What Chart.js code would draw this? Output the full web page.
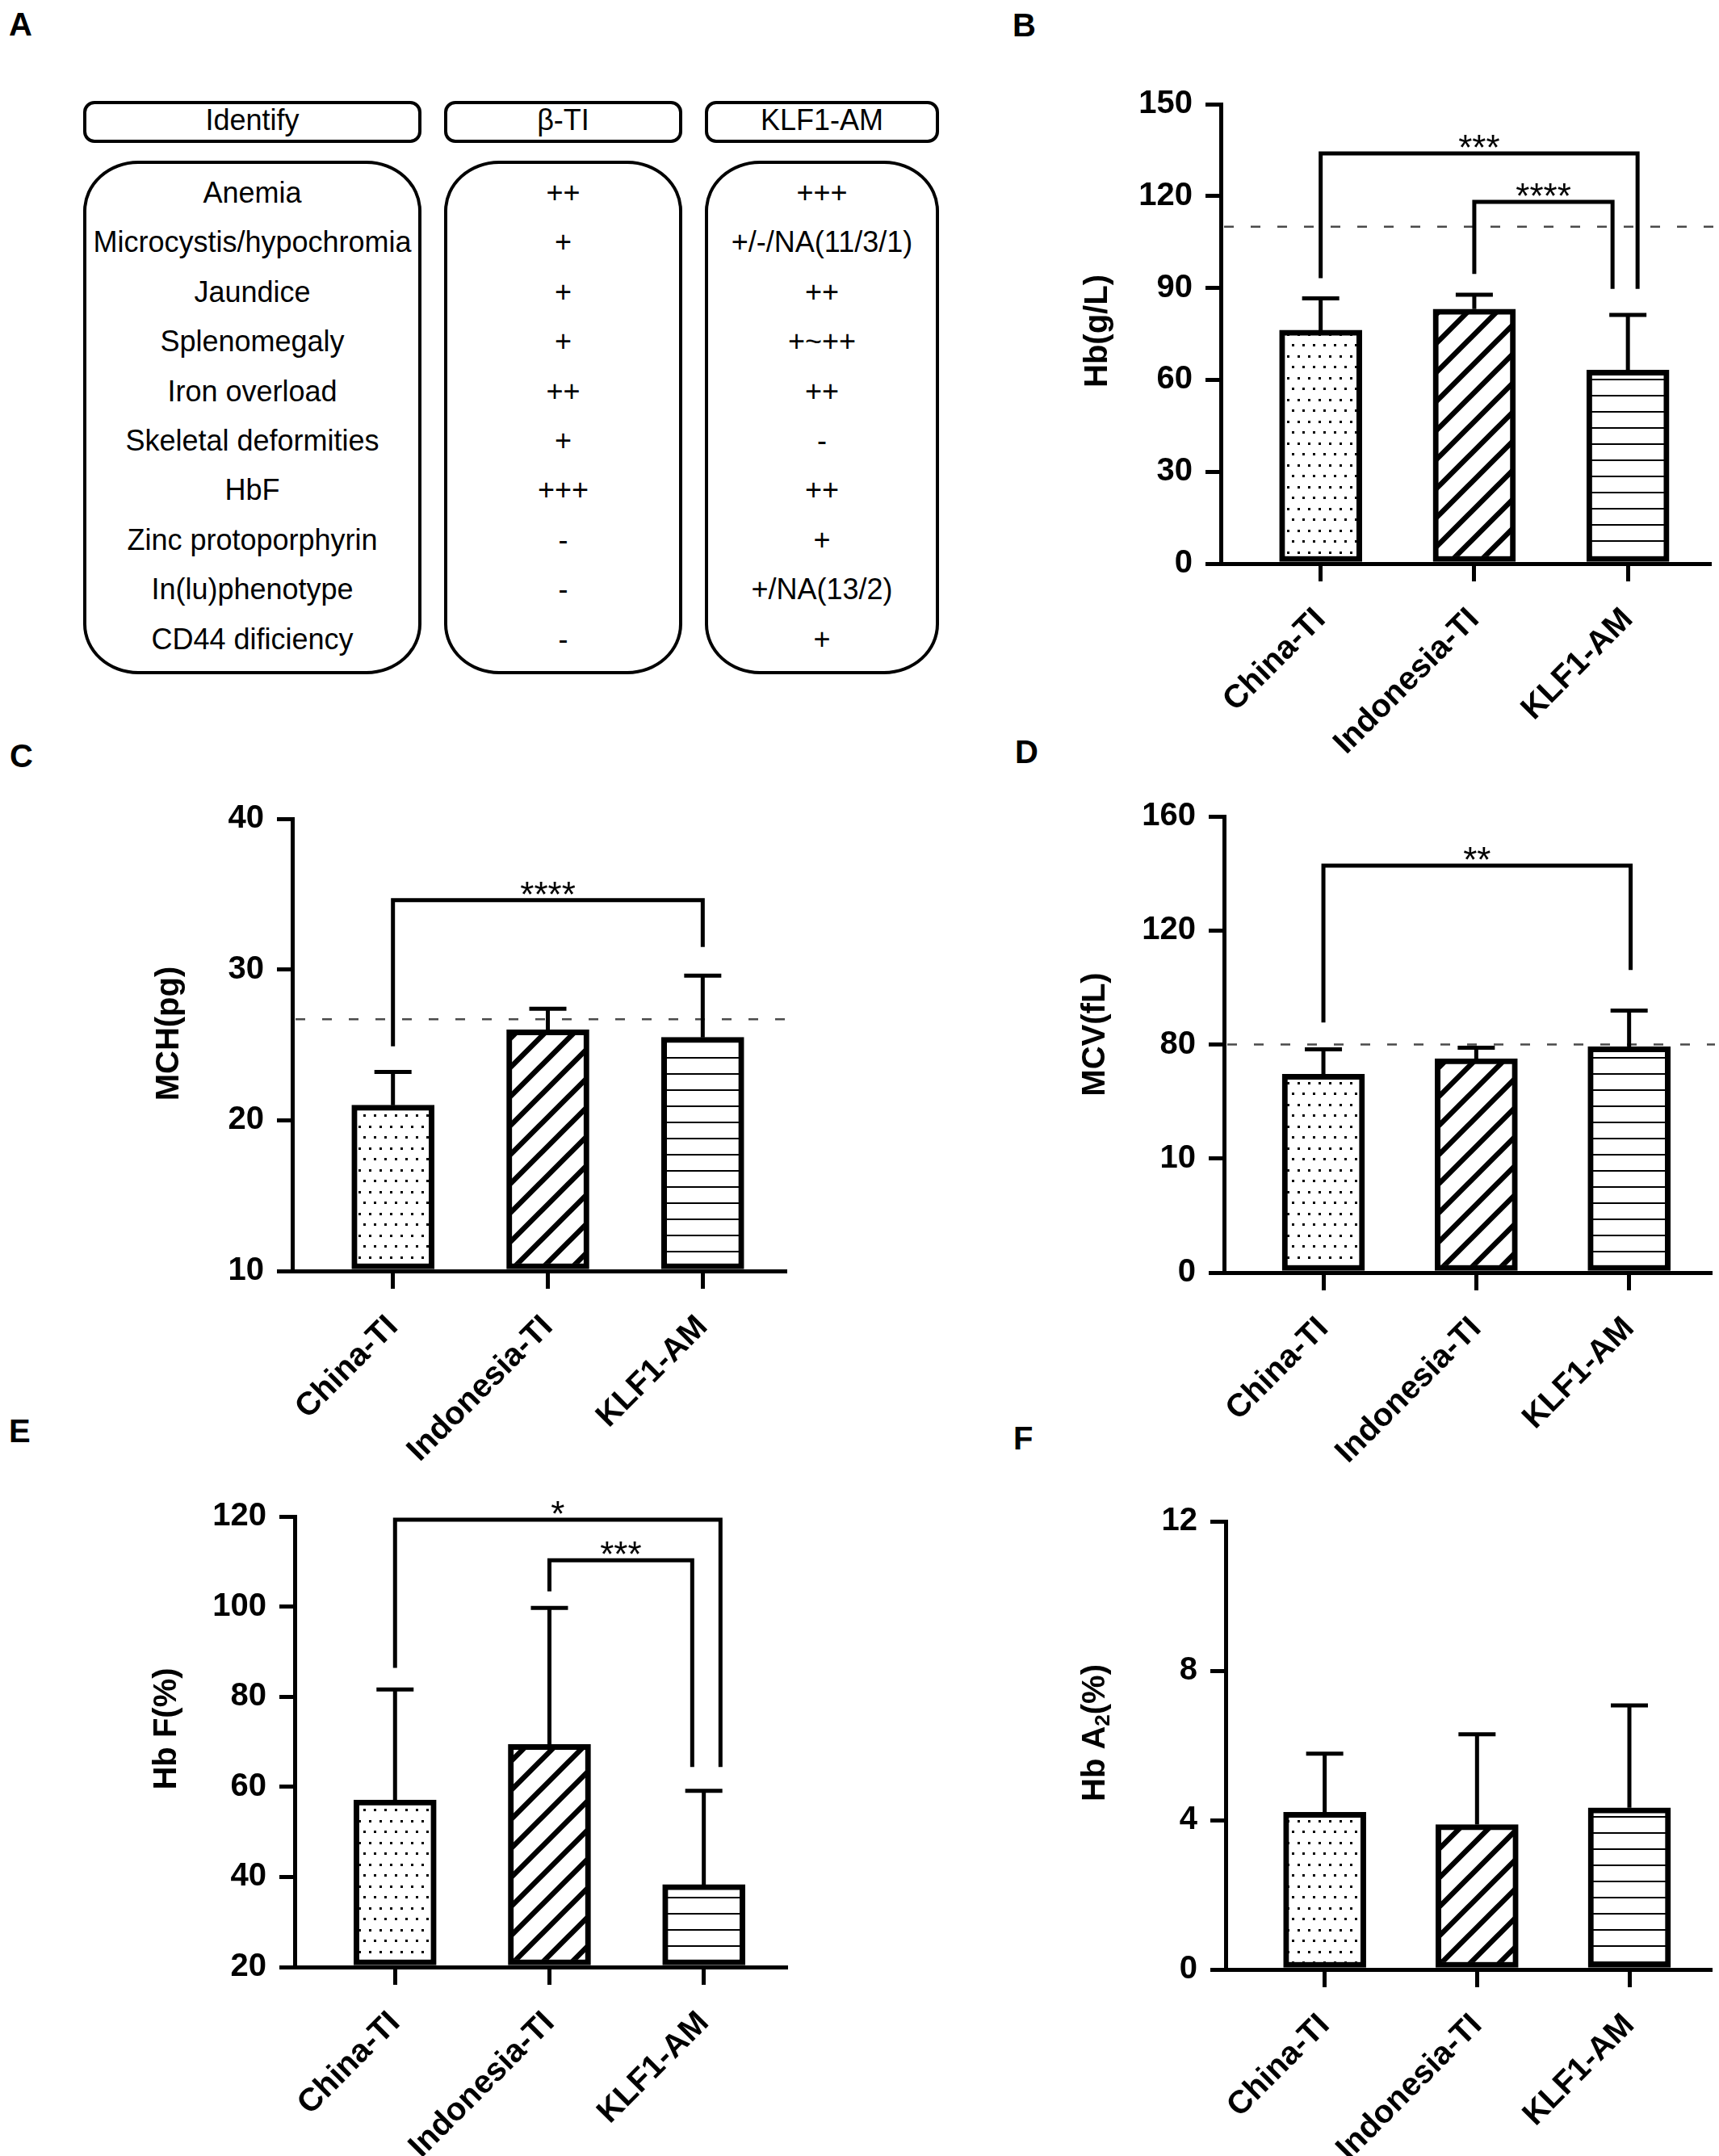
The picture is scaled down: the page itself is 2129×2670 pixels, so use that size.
<!DOCTYPE html>
<html><head><meta charset="utf-8">
<script src="https://cdn.jsdelivr.net/npm/chart.js@4.4.1/dist/chart.umd.min.js"></script>
<style>
html,body{margin:0;padding:0;background:#fff;}
body{width:2129px;height:2670px;position:relative;overflow:hidden;font-family:"Liberation Sans",Arial,sans-serif;color:#000;}
.plbl{position:absolute;font-weight:bold;font-size:40px;line-height:40px;}
.box{position:absolute;border:4px solid #000;box-sizing:border-box;}
.t{position:absolute;font-size:36px;line-height:36px;white-space:nowrap;transform:translateX(-50%);}
canvas{position:absolute;}
</style></head><body>
<script>
// ---------------- data ----------------
const categories = ['China-TI', 'Indonesia-TI', 'KLF1-AM'];

const hbMean   = [76.2, 83.1, 63.2];
const hbUpper  = [86.6, 87.8, 81.2];
const hbTicks  = [0, 30, 60, 90, 120, 150];
const hbRef    = 110;

const mchMean  = [21.0, 26.0, 25.5];
const mchUpper = [23.2, 27.4, 29.6];
const mchTicks = [10, 20, 30, 40];
const mchRef   = 26.7;

const mcvMean  = [69.6, 75.0, 79.2];
const mcvUpper = [78.3, 78.9, 91.9];
const mcvTicks = [0, 40, 80, 120, 160];
const mcvTickLabels = ['0', '10', '80', '120', '160'];
const mcvRef   = 80;

const hbfMean  = [57.1, 69.4, 38.3];
const hbfUpper = [81.6, 99.7, 59.1];
const hbfTicks = [20, 40, 60, 80, 100, 120];

const hba2Mean  = [4.21, 3.88, 4.33];
const hba2Upper = [5.78, 6.30, 7.07];
const hba2Ticks = [0, 4, 8, 12];

// significance brackets: categories compared, bracket height, leg ends (data units)
const hbBrackets  = [
  {from: 0, to: 2, toShift: 0.063, y: 133.9, fromEnd: 93.2, toEnd: 89.7, label: '***'},
  {from: 1, to: 2, toShift: -0.10, y: 118.1, fromEnd: 94.6, toEnd: 89.7, label: '****'}
];
const mchBrackets = [{from: 0, to: 2, toShift: 0, y: 34.6, fromEnd: 24.9, toEnd: 31.5, label: '****'}];
const mcvBrackets = [{from: 0, to: 2, toShift: 0.01, y: 142.7, fromEnd: 87.7, toEnd: 106.1, label: '**'}];
const hbfBrackets = [
  {from: 0, to: 2, toShift: 0.108, y: 119.3, fromEnd: 86.4, toEnd: 64.4, label: '*'},
  {from: 1, to: 2, toShift: -0.075, y: 110.3, fromEnd: 103.4, toEnd: 64.4, label: '***'}
];

const hbTitle   = [{t: 'Hb(g/L)'}];
const mchTitle  = [{t: 'MCH(pg)'}];
const mcvTitle  = [{t: 'MCV(fL)'}];
const hbfTitle  = [{t: 'Hb F(%)'}];
const hba2Title = [{t: 'Hb A'}, {t: '2', sub: true}, {t: '(%)'}];

// table (panel A)
const tableHeaders = ['Identify', 'β-TI', 'KLF1-AM'];
const features = ['Anemia', 'Microcystis/hypochromia', 'Jaundice', 'Splenomegaly', 'Iron overload',
  'Skeletal deformities', 'HbF', 'Zinc protoporphyrin', 'In(lu)phenotype', 'CD44 dificiency'];
const betaTI = ['++', '+', '+', '+', '++', '+', '+++', '-', '-', '-'];
const klf1AM = ['+++', '+/-/NA(11/3/1)', '++', '+~++', '++', '-', '++', '+', '+/NA(13/2)', '+'];
const panelLetters = ['A', 'B', 'C', 'D', 'E', 'F'];

// ---------------- panel letters ----------------
const letterPos = [[11, 30], [1254, 31], [12, 936], [1257, 931], [11, 1772], [1255, 1781]];
panelLetters.forEach((l, i) => {
  const d = document.createElement('div');
  d.className = 'plbl'; d.textContent = l;
  d.style.left = letterPos[i][0] + 'px'; d.style.top = (letterPos[i][1] - 19.6) + 'px';
  document.body.appendChild(d);
});

// ---------------- panel A table ----------------
const cols = [{x: 103, w: 419}, {x: 550, w: 295}, {x: 873, w: 290}];
const colText = [features, betaTI, klf1AM];
cols.forEach((c, ci) => {
  const h = document.createElement('div');
  h.className = 'box';
  Object.assign(h.style, {left: c.x + 'px', top: '125px', width: c.w + 'px', height: '52px', borderRadius: '14px'});
  document.body.appendChild(h);
  const b = document.createElement('div');
  b.className = 'box';
  Object.assign(b.style, {left: c.x + 'px', top: '199px', width: c.w + 'px', height: '636px', borderRadius: '68px / 62px'});
  document.body.appendChild(b);
  const cx = c.x + c.w / 2;
  const ht = document.createElement('div');
  ht.className = 't'; ht.textContent = tableHeaders[ci];
  ht.style.left = cx + 'px'; ht.style.top = (149 - 17.6) + 'px';
  document.body.appendChild(ht);
  colText[ci].forEach((s, ri) => {
    const t = document.createElement('div');
    t.className = 't'; t.textContent = s;
    t.style.left = cx + 'px'; t.style.top = (238.6 + 61.4 * ri - 17.6) + 'px';
    document.body.appendChild(t);
  });
});

// ---------------- patterns ----------------
function dotPattern() {
  const c = document.createElement('canvas'); c.width = 13; c.height = 27;
  const g = c.getContext('2d');
  g.fillStyle = '#fff'; g.fillRect(0, 0, 13, 27);
  g.fillStyle = '#000'; g.fillRect(2, 2, 3, 3); g.fillRect(8, 15, 3, 3);
  return g.createPattern(c, 'repeat');
}
function hatchPattern() {
  const s = 36, c = document.createElement('canvas'); c.width = s; c.height = s;
  const g = c.getContext('2d');
  g.fillStyle = '#fff'; g.fillRect(0, 0, s, s);
  g.strokeStyle = '#000'; g.lineWidth = 6.5; g.lineCap = 'square';
  for (const k of [0, s, 2 * s]) { g.beginPath(); g.moveTo(-2, k + 2); g.lineTo(s + 2, k - s - 2); g.stroke(); }
  return g.createPattern(c, 'repeat');
}
function linePattern() {
  const c = document.createElement('canvas'); c.width = 20; c.height = 20;
  const g = c.getContext('2d');
  g.fillStyle = '#fff'; g.fillRect(0, 0, 20, 20);
  g.fillStyle = '#000'; g.fillRect(0, 9, 20, 2);
  return g.createPattern(c, 'repeat');
}

const FAMILY = '"Liberation Sans", Arial, sans-serif';
const TICK_FONT = {family: FAMILY, size: 40, weight: 'bold'};

function makePanel(p) {
  const cv = document.createElement('canvas');
  cv.width = p.cw; cv.height = p.ch;
  Object.assign(cv.style, {left: p.cl + 'px', top: p.ct + 'px', width: p.cw + 'px', height: p.ch + 'px'});
  document.body.appendChild(cv);
  const [L, T, R, B] = p.area;
  const padL = L - p.cl, padT = T - p.ct, padR = p.cl + p.cw - R, padB = p.ct + p.ch - B;
  const labels = p.tickLabels || p.ticks.map(String);

  const plug = {
    id: 'annot' + p.id,
    beforeDatasetsDraw(chart) {
      if (p.ref == null) return;
      const {ctx, chartArea: a} = chart;
      const y = chart.scales.y.getPixelForValue(p.ref);
      ctx.save();
      ctx.strokeStyle = '#4a4a4a'; ctx.lineWidth = 2.5; ctx.setLineDash([12, 21]);
      ctx.beginPath(); ctx.moveTo(a.left + 4, y); ctx.lineTo(a.right + 6, y); ctx.stroke();
      ctx.restore();
    },
    afterDatasetsDraw(chart) {
      const {ctx} = chart, xs = chart.scales.x, ys = chart.scales.y;
      ctx.save();
      ctx.strokeStyle = '#000'; ctx.lineWidth = 5; ctx.lineCap = 'butt'; ctx.lineJoin = 'miter';
      p.mean.forEach((m, i) => {
        const x = xs.getPixelForValue(i), y0 = ys.getPixelForValue(m), y1 = ys.getPixelForValue(p.upper[i]);
        ctx.beginPath();
        ctx.moveTo(x, y0); ctx.lineTo(x, y1);
        ctx.moveTo(x - 23, y1); ctx.lineTo(x + 23, y1);
        ctx.stroke();
      });
      (p.brackets || []).forEach(b => {
        const x1 = xs.getPixelForValue(b.from + (b.fromShift || 0));
        const x2 = xs.getPixelForValue(b.to + (b.toShift || 0));
        const yt = ys.getPixelForValue(b.y);
        ctx.beginPath();
        ctx.moveTo(x1, ys.getPixelForValue(b.fromEnd)); ctx.lineTo(x1, yt);
        ctx.lineTo(x2, yt); ctx.lineTo(x2, ys.getPixelForValue(b.toEnd));
        ctx.stroke();
        ctx.fillStyle = '#000';
        ctx.font = '44px ' + FAMILY;
        ctx.textAlign = 'center'; ctx.textBaseline = 'alphabetic';
        ctx.fillText(b.label, (x1 + x2) / 2, yt + 8);
      });
      ctx.restore();
    },
    afterDraw(chart) {
      const ctx = chart.ctx;
      ctx.save();
      ctx.translate(p.titlePos[0] - p.cl, p.titlePos[1] - p.ct);
      ctx.rotate(-Math.PI / 2);
      ctx.fillStyle = '#000'; ctx.textBaseline = 'middle'; ctx.textAlign = 'left';
      const big = 'bold 40px ' + FAMILY, small = 'bold 26px ' + FAMILY;
      let total = 0;
      const widths = p.title.map(s => { ctx.font = s.sub ? small : big; const w = ctx.measureText(s.t).width; total += w; return w; });
      let x = -total / 2;
      p.title.forEach((s, i) => {
        ctx.font = s.sub ? small : big;
        ctx.fillText(s.t, x, s.sub ? 10 : 0);
        x += widths[i];
      });
      ctx.restore();
    }
  };

  new Chart(cv, {
    type: 'bar',
    data: {
      datasets: [{
        data: p.mean.map((v, i) => ({x: i, y: v})),
        backgroundColor: [dotPattern(), hatchPattern(), linePattern()],
        borderColor: '#000', borderWidth: 7, borderSkipped: false,
        barThickness: 102, base: p.yMin
      }]
    },
    options: {
      responsive: false, animation: false, devicePixelRatio: 1,
      layout: {padding: {left: 0, top: padT, right: padR, bottom: 0}},
      plugins: {legend: {display: false}, tooltip: {enabled: false}},
      scales: {
        x: {
          type: 'linear', min: -0.65, max: 2.53, position: 'bottom', offset: false,
          afterBuildTicks: s => { s.ticks = categories.map((c, i) => ({value: i})); },
          afterFit: s => { s.height = padB; s.paddingLeft = 0; s.paddingRight = 0; },
          ticks: {callback: v => categories[v], minRotation: 45, maxRotation: 45, autoSkip: false,
                  font: TICK_FONT, color: '#000', padding: 24},
          grid: {offset: false, drawOnChartArea: false, drawTicks: true, tickLength: 22, lineWidth: 5, tickWidth: 5, color: '#000'},
          border: {display: true, width: 5, color: '#000'}
        },
        y: {
          min: p.yMin, max: p.yMax,
          afterBuildTicks: s => { s.ticks = p.ticks.map(v => ({value: v})); },
          afterFit: s => { s.width = padL; s.paddingTop = 0; s.paddingBottom = 0; },
          ticks: {callback: v => labels[p.ticks.indexOf(v)], font: TICK_FONT, color: '#000', padding: 16},
          grid: {drawOnChartArea: false, drawTicks: true, tickLength: 19, lineWidth: 5, tickWidth: 5, color: '#000'},
          border: {display: true, width: 5, color: '#000'}
        }
      }
    },
    plugins: [plug]
  });
}

const panels = [
  {id: 'B', cl: 1280, ct: 60, cw: 849, ch: 900, area: [1512, 129, 2117, 698],
   mean: hbMean, upper: hbUpper, yMin: 0, yMax: 150, ticks: hbTicks, ref: hbRef,
   brackets: hbBrackets, title: hbTitle, titlePos: [1360, 410]},
  {id: 'C', cl: 130, ct: 960, cw: 870, ch: 900, area: [362, 1014, 972, 1574],
   mean: mchMean, upper: mchUpper, yMin: 10, yMax: 40, ticks: mchTicks, ref: mchRef,
   brackets: mchBrackets, title: mchTitle, titlePos: [210, 1280]},
  {id: 'D', cl: 1280, ct: 960, cw: 849, ch: 900, area: [1516, 1011, 2118, 1576],
   mean: mcvMean, upper: mcvUpper, yMin: 0, yMax: 160, ticks: mcvTicks, tickLabels: mcvTickLabels, ref: mcvRef,
   brackets: mcvBrackets, title: mcvTitle, titlePos: [1357, 1281]},
  {id: 'E', cl: 130, ct: 1820, cw: 870, ch: 850, area: [365, 1878, 973, 2436],
   mean: hbfMean, upper: hbfUpper, yMin: 20, yMax: 120, ticks: hbfTicks,
   brackets: hbfBrackets, title: hbfTitle, titlePos: [207, 2141]},
  {id: 'F', cl: 1280, ct: 1820, cw: 849, ch: 850, area: [1518, 1884, 2118, 2439],
   mean: hba2Mean, upper: hba2Upper, yMin: 0, yMax: 12, ticks: hba2Ticks,
   title: hba2Title, titlePos: [1357, 2146]}
];
panels.forEach(makePanel);
</script>
</body></html>
